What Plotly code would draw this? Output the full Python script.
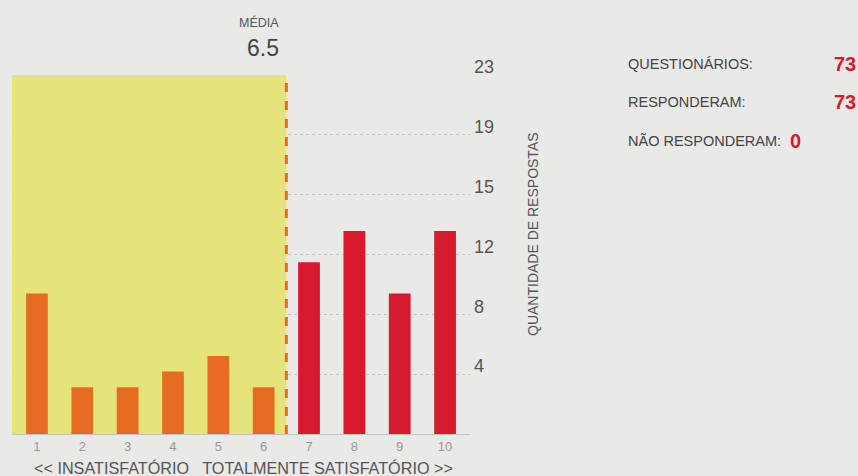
import plotly.graph_objects as go

categories = [1, 2, 3, 4, 5, 6, 7, 8, 9, 10]
respostas = [9, 3, 3, 4, 5, 3, 11, 13, 9, 13]
media = 6.5
y_max = 23
tick_labels = ["4", "8", "12", "15", "19", "23"]
resumo_labels = ["QUESTIONÁRIOS:", "RESPONDERAM:", "NÃO RESPONDERAM:"]
resumo_values = ["73", "73", "0"]

ORANGE = "#e86b22"
RED = "#d71a2d"
YELLOW = "rgba(229,227,106,0.87)"
BG = "#e9e9e8"
FONT = "Liberation Sans, Arial, sans-serif"

W, H = 858, 476
L, R, T, B = 12, 388, 75, 42
pw = W - L - R
ph = H - T - B

def px(x):
    return (x - L) / pw

def py(y):
    return (H - B - y) / ph

colors = [ORANGE if c <= media else RED for c in categories]

fig = go.Figure()
fig.add_trace(go.Bar(
    x=categories, y=respostas, marker_color=colors, marker_line_width=0,
    width=0.48, hoverinfo="x+y", showlegend=False,
))

tick_vals = [y_max * k / 6 for k in range(1, 7)]

fig.add_shape(type="rect", xref="x", yref="y", x0=0.45, x1=media, y0=0, y1=y_max,
              fillcolor=YELLOW, line_width=0, layer="between")
fig.add_shape(type="line", xref="x", yref="y", x0=media, x1=media, y0=0, y1=y_max,
              line=dict(color=ORANGE, width=3, dash="dash"), layer="above")

ann = []
ann.append(dict(x=media, y=py(22), xref="x", yref="paper", text="MÉDIA",
                showarrow=False, xanchor="right", yanchor="middle", xshift=-5,
                font=dict(family=FONT, size=12.5, color="#555")))
ann.append(dict(x=media, y=py(48), xref="x", yref="paper", text="6.5",
                showarrow=False, xanchor="right", yanchor="middle", xshift=-5,
                font=dict(family=FONT, size=23, color="#444")))
ann.append(dict(x=px(244), y=py(468), xref="paper", yref="paper",
                text="<< INSATISFATÓRIO   TOTALMENTE SATISFATÓRIO >>",
                showarrow=False, xanchor="center", yanchor="middle",
                font=dict(family=FONT, size=16.2, color="#555")))
ann.append(dict(x=px(533), y=py(234), xref="paper", yref="paper",
                text="QUANTIDADE DE RESPOSTAS", textangle=-90,
                showarrow=False, xanchor="center", yanchor="middle",
                font=dict(family=FONT, size=14, color="#555")))

rows_y = [64, 102, 141]
for i, (lab, val) in enumerate(zip(resumo_labels, resumo_values)):
    ann.append(dict(x=px(626), y=py(rows_y[i]), xref="paper", yref="paper", text=lab,
                    showarrow=False, xanchor="left", yanchor="middle",
                    font=dict(family=FONT, size=14.5, color="#444")))
    if i < 2:
        ann.append(dict(x=px(858), y=py(rows_y[i]), xref="paper", yref="paper",
                        text="<b>%s</b>" % val, showarrow=False, xanchor="right",
                        yanchor="middle", font=dict(family=FONT, size=20, color=RED)))
    else:
        ann.append(dict(x=px(788), y=py(rows_y[i]), xref="paper", yref="paper",
                        text="<b>%s</b>" % val, showarrow=False, xanchor="left",
                        yanchor="middle", font=dict(family=FONT, size=20, color=RED)))

fig.update_layout(
    width=W, height=H,
    margin=dict(l=L, r=R, t=T, b=B),
    paper_bgcolor=BG, plot_bgcolor=BG,
    font=dict(family=FONT, color="#555"),
    annotations=ann,
    xaxis=dict(range=[0.45, 10.55], tickmode="array", tickvals=categories,
               ticktext=[str(c) for c in categories], showgrid=False,
               zeroline=False, showline=True, linecolor="#c4c4c4", linewidth=1,
               ticks="", tickfont=dict(family=FONT, size=13, color="#999"),
               fixedrange=True),
    yaxis=dict(range=[0, y_max], side="right", tickmode="array", tickvals=tick_vals,
               ticktext=tick_labels, showgrid=True, gridcolor="#c4c4c4",
               griddash="dot", gridwidth=1, zeroline=False, showline=False,
               ticks="", ticklabelshift=-8, ticklabelstandoff=3,
               tickfont=dict(family=FONT, size=18, color="#555"), fixedrange=True),
    bargap=0.52,
)

fig.write_html("out.html", config={"displayModeBar": False},
               post_script="document.body.style.margin='0';document.body.style.background='%s';" % BG)
